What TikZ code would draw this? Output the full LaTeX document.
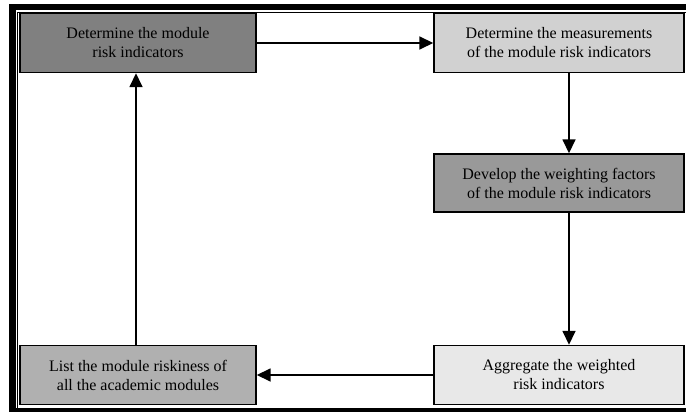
\documentclass[tikz,border=0pt]{standalone}
\usepackage{fontspec}
\setmainfont{Liberation Serif}
\usetikzlibrary{arrows.meta,positioning}
\definecolor{shadeA}{gray}{0.50}
\definecolor{shadeB}{gray}{0.82}
\definecolor{shadeC}{gray}{0.60}
\definecolor{shadeD}{gray}{0.91}
\definecolor{shadeE}{gray}{0.69}
\tikzset{
  box/.style={draw=black,line width=1.4pt,align=center,font=\fontsize{16}{19}\selectfont,inner sep=0pt,minimum height=59pt},
  leftbox/.style={box,minimum width=236pt},
  rightbox/.style={box,minimum width=250pt},
  arr/.style={-{Triangle[length=14pt,width=13pt]},draw=black,line width=1.6pt},
}
\begin{document}
\begin{tikzpicture}[x=1pt,y=-1pt]
  \useasboundingbox (0,0) rectangle (686,412);
  \clip (0,0) rectangle (686,412);
  % frame
  \fill (9,4) rectangle (16,412);
  \fill (9,4) rectangle (686,10);
  \fill (16,408) rectangle (686,412);
  \draw[line width=1.2pt] (17.6,420) |- (700,12.6);
  % steps
  \node[leftbox,fill=shadeA] (ident) at (138,43) {Determine the module\\risk indicators};
  \node[rightbox,fill=shadeB] (measure) at (559,43) {Determine the measurements\\of the module risk indicators};
  \node[rightbox,fill=shadeC,minimum height=58pt] (weight) at (559,183) {Develop the weighting factors\\of the module risk indicators};
  \node[rightbox,fill=shadeD] (aggr) at (559,375) {Aggregate the weighted\\risk indicators};
  \node[leftbox,fill=shadeE] (listmod) at (138,375) {List the module riskiness of\\all the academic modules};
  \draw[arr] (ident) -- (measure);
  \draw[arr] (measure.south -| 569,0) -- (weight.north -| 569,0);
  \draw[arr] (weight.south -| 569,0) -- (aggr.north -| 569,0);
  \draw[arr] (aggr) -- (listmod);
  \draw[arr] (listmod.north -| 136,0) -- (ident.south -| 136,0);
\end{tikzpicture}
\end{document}
